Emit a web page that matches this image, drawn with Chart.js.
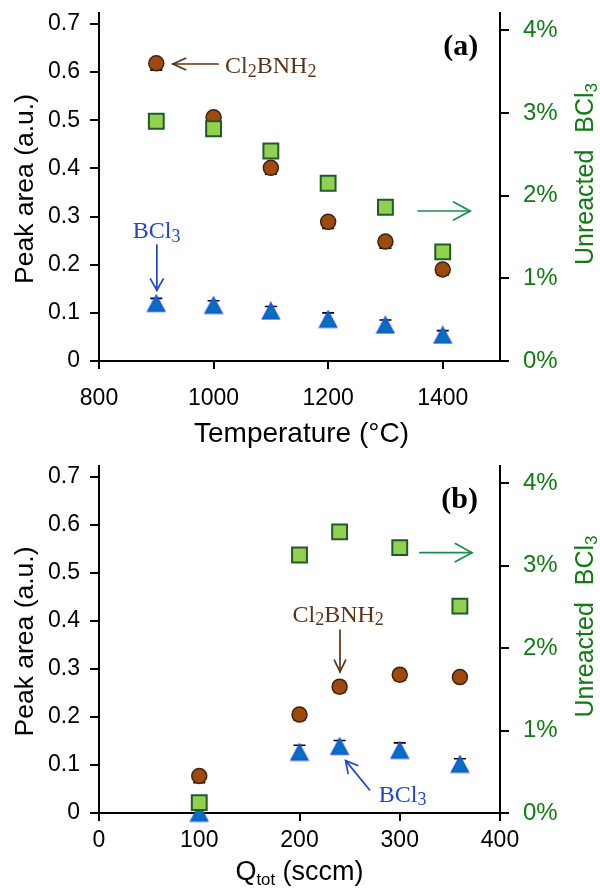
<!DOCTYPE html>
<html>
<head>
<meta charset="utf-8">
<script src="https://cdn.jsdelivr.net/npm/chart.js@4.4.0/dist/chart.umd.min.js"></script>
<style>
  html, body { margin: 0; padding: 0; background: #fff; }
  #wrap { position: relative; width: 600px; height: 888px; overflow: hidden; }
  #chartA { position: absolute; left: 0; top: 0; }
  #chartB { position: absolute; left: 0; top: 444px; }
</style>
</head>
<body>
<div id="wrap">
  <canvas id="chartA" width="600" height="460"></canvas>
  <canvas id="chartB" width="600" height="444"></canvas>
</div>
<script>
"use strict";

// (a) Peak area and unreacted BCl3 against temperature
const tempA = [900, 1000, 1100, 1200, 1300, 1400];
const cl2bnh2A = [0.618, 0.506, 0.401, 0.289, 0.248, 0.190];
const cl2bnh2ErrA = [0.014, 0.012, 0.013, 0.014, 0.014, 0.012];
const bcl3A = [0.120, 0.116, 0.104, 0.087, 0.075, 0.054];
const bcl3ErrA = [0.010, 0.009, 0.009, 0.013, 0.010, 0.009];
const unreactedA = [0.0290, 0.0281, 0.0254, 0.0215, 0.0186, 0.0132];

// (b) Peak area and unreacted BCl3 against total flow
const qtotB = [100, 200, 240, 300, 360];
const cl2bnh2B = [0.077, 0.205, 0.263, 0.288, 0.283];
const cl2bnh2ErrB = [0.014, 0.012, 0.012, 0.012, 0.010];
const bcl3B = [0.000, 0.127, 0.139, 0.131, 0.102];
const bcl3ErrB = [0.000, 0.014, 0.012, 0.015, 0.011];
const unreactedB = [0.00125, 0.0313, 0.0341, 0.0322, 0.0251];

// Tick values
const leftTicks = [0, 0.1, 0.2, 0.3, 0.4, 0.5, 0.6, 0.7];
const rightTicks = [0, 0.01, 0.02, 0.03, 0.04];
const xTicksA = [800, 1000, 1200, 1400];
const xTicksB = [0, 100, 200, 300, 400];

const SANS = '"Liberation Sans", Arial, sans-serif';
const SERIF = '"Liberation Serif", "Times New Roman", serif';
const GREEN = '#127a12';
const BROWN_TXT = '#5b3317';
const BLUE_TXT = '#1f45d6';
const GREEN_ARROW = '#16904a';

//Triangle marker as a small canvas so that it sits centred on its box like Excel's.
function triangleMarker() {
    const c = document.createElement('canvas');
    c.width = 20;
    c.height = 19;
    const g = c.getContext('2d');
    g.beginPath();
    g.moveTo(10, 1.5);
    g.lineTo(18.5, 17.5);
    g.lineTo(1.5, 17.5);
    g.closePath();
    g.fillStyle = '#0070c0';
    g.fill();
    g.strokeStyle = '#2050d8';
    g.lineWidth = 1.5;
    g.stroke();
    return c;
}
const triStyle = triangleMarker();

function points(xs, ys) {
    return xs.map((x, i) => ({ x: x, y: ys[i] }));
}

//Datasets: squares first so they are drawn on top.
function makeDatasets(xs, circ, circErr, tri, triErr, unreacted) {
    return [
        {
            label: 'Unreacted BCl3',
            data: points(xs, unreacted),
            yAxisID: 'y2',
            pointStyle: 'rect',
            pointRadius: 10.5,
            backgroundColor: '#92d050',
            borderColor: '#1e5b2b',
            borderWidth: 2,
            clip: false
        },
        {
            label: 'Cl2BNH2',
            data: points(xs, circ),
            yAxisID: 'y',
            pointStyle: 'circle',
            pointRadius: 7.5,
            backgroundColor: '#a0490f',
            borderColor: '#3b2412',
            borderWidth: 1.5,
            errors: circErr,
            errSide: 'minus',
            clip: false
        },
        {
            label: 'BCl3',
            data: points(xs, tri),
            yAxisID: 'y',
            pointStyle: triStyle,
            pointRadius: 9,
            errors: triErr,
            errSide: 'both',
            clip: false
        }
    ];
}

function makeScales(xMin, xMax, xTicks, xPad, xHeight) {
    const tickFont = { family: SANS, size: 23 };
    const grid = { display: true, drawOnChartArea: false, drawTicks: true, tickLength: 9, color: '#000', lineWidth: 2 };
    const border = { display: true, color: '#000', width: 2 };
    return {
        x: {
            type: 'linear',
            min: xMin,
            max: xMax,
            afterBuildTicks: s => { s.ticks = xTicks.map(v => ({ value: v })); },
            afterFit: s => { s.height = xHeight; s.paddingLeft = 0; s.paddingRight = 0; },
            grid: Object.assign({}, grid, { tickLength: 8 }),
            border: border,
            ticks: {
                color: '#000', font: tickFont, padding: xPad, maxRotation: 0, autoSkip: false,
                callback: v => String(v)
            }
        },
        y: {
            type: 'linear',
            position: 'left',
            min: 0,
            max: 0.7225,
            afterBuildTicks: s => { s.ticks = leftTicks.map(v => ({ value: v })); },
            afterFit: s => { s.width = 99; s.paddingTop = 0; s.paddingBottom = 0; },
            grid: grid,
            border: border,
            ticks: {
                color: '#000', font: tickFont, padding: 10,
                callback: v => v === 0 ? '0' : v.toFixed(1)
            }
        },
        y2: {
            type: 'linear',
            position: 'right',
            min: 0,
            max: 0.0421,
            afterBuildTicks: s => { s.ticks = rightTicks.map(v => ({ value: v })); },
            afterFit: s => { s.width = 100; s.paddingTop = 0; s.paddingBottom = 0; },
            grid: grid,
            border: border,
            ticks: {
                color: GREEN, font: { family: SANS, size: 24 }, padding: 14,
                callback: v => Math.round(v * 100) + '%'
            }
        }
    };
}

//Text with subscripts: parts = [[text, isSub], ...], a number adds extra space.
function drawRich(ctx, parts, x, y, o) {
    const subSize = o.size * (o.subScale || 0.7);
    const fontFor = sub => (o.weight || 'normal') + ' ' + (sub ? subSize : o.size) + 'px ' + o.family;
    let w = 0;
    parts.forEach(p => {
        if (typeof p === 'number') { w += p; return; }
        ctx.font = fontFor(p[1]);
        w += ctx.measureText(p[0]).width;
    });
    let cx = x;
    if (o.align === 'center') cx = x - w / 2;
    if (o.align === 'right') cx = x - w;
    ctx.fillStyle = o.color;
    ctx.textAlign = 'left';
    ctx.textBaseline = 'alphabetic';
    parts.forEach(p => {
        if (typeof p === 'number') { cx += p; return; }
        ctx.font = fontFor(p[1]);
        ctx.fillText(p[0], cx, p[1] ? y + o.size * (o.subShift || 0.15) : y);
        cx += ctx.measureText(p[0]).width;
    });
}

function drawArrow(ctx, x1, y1, x2, y2, color, len, ang) {
    ctx.save();
    ctx.strokeStyle = color;
    ctx.lineWidth = 1.7;
    ctx.lineCap = 'round';
    ctx.beginPath();
    ctx.moveTo(x1, y1);
    ctx.lineTo(x2, y2);
    ctx.stroke();
    const a = Math.atan2(y2 - y1, x2 - x1);
    ctx.beginPath();
    ctx.moveTo(x2 - len * Math.cos(a - ang), y2 - len * Math.sin(a - ang));
    ctx.lineTo(x2, y2);
    ctx.lineTo(x2 - len * Math.cos(a + ang), y2 - len * Math.sin(a + ang));
    ctx.stroke();
    ctx.restore();
}

function drawErrorBars(chart) {
    const ctx = chart.ctx;
    ctx.save();
    ctx.strokeStyle = '#000';
    ctx.lineWidth = 1.6;
    chart.data.datasets.forEach((ds, i) => {
        if (!ds.errors) return;
        const yScale = chart.scales[ds.yAxisID];
        chart.getDatasetMeta(i).data.forEach((el, j) => {
            const e = ds.errors[j];
            if (!e) return;
            const v = ds.data[j].y;
            const ends = [];
            if (ds.errSide !== 'plus') ends.push(yScale.getPixelForValue(v - e));
            if (ds.errSide !== 'minus') ends.push(yScale.getPixelForValue(v + e));
            ends.forEach(py => {
                ctx.beginPath();
                ctx.moveTo(el.x, el.y);
                ctx.lineTo(el.x, py);
                ctx.moveTo(el.x - 6, py);
                ctx.lineTo(el.x + 6, py);
                ctx.stroke();
            });
        });
    });
    ctx.restore();
}

function makeExtras(cfg) {
    return {
        id: 'extras',
        beforeDatasetsDraw(chart) {
            drawErrorBars(chart);
        },
        afterDraw(chart) {
            const ctx = chart.ctx;
            const area = chart.chartArea;
            const xs = chart.scales.x;
            const ys = chart.scales.y;
            const cy = (area.top + area.bottom) / 2;
            const cx = (area.left + area.right) / 2;

            //Axis titles
            ctx.save();
            ctx.translate(33, cy + 2);
            ctx.rotate(-Math.PI / 2);
            drawRich(ctx, [['Peak area (a.u.)']], 0, 0, { size: 26.5, family: SANS, color: '#000', align: 'center' });
            ctx.restore();

            ctx.save();
            ctx.translate(593, cy - 13);
            ctx.rotate(-Math.PI / 2);
            drawRich(ctx, [['Unreacted'], 17, ['BCl'], ['3', true]], 0, 0,
                { size: 25, family: SANS, color: GREEN, align: 'center', subScale: 0.68, subShift: 0.16 });
            ctx.restore();

            drawRich(ctx, cfg.xTitle, cx + cfg.xTitleDx, cfg.xTitleY,
                { size: cfg.xTitleSize, family: SANS, color: '#000', align: 'center', subScale: 0.62, subShift: 0.17 });

            //Annotations placed in data coordinates
            cfg.texts.forEach(t => {
                drawRich(ctx, t.parts, xs.getPixelForValue(t.x), ys.getPixelForValue(t.y),
                    { size: t.size, family: SERIF, weight: t.weight, color: t.color, align: t.align, subScale: 0.75, subShift: 0.14 });
            });
            cfg.arrows.forEach(a => {
                drawArrow(ctx, xs.getPixelForValue(a.x1), ys.getPixelForValue(a.y1),
                    xs.getPixelForValue(a.x2), ys.getPixelForValue(a.y2), a.color, a.len, a.ang);
            });
        }
    };
}

function makeChart(id, datasets, scales, padding, extras) {
    return new Chart(document.getElementById(id), {
        type: 'scatter',
        data: { datasets: datasets },
        options: {
            responsive: false,
            animation: false,
            events: [],
            layout: { padding: padding },
            scales: scales,
            plugins: { legend: { display: false }, tooltip: { enabled: false } }
        },
        plugins: [extras]
    });
}

//Chart (a)
makeChart('chartA',
    makeDatasets(tempA, cl2bnh2A, cl2bnh2ErrA, bcl3A, bcl3ErrA, unreactedA),
    makeScales(800, 1500, xTicksA, 16, 83),
    { top: 13, bottom: 16, left: 0, right: 0 },
    makeExtras({
        xTitle: [['Temperature (°C)']], xTitleDx: 2, xTitleY: 442, xTitleSize: 28,
        texts: [
            { parts: [['(a)']], x: 1462, y: 0.635, size: 30, weight: 'bold', color: '#000', align: 'right' },
            { parts: [['Cl'], ['2', true], ['BNH'], ['2', true]], x: 1020, y: 0.597, size: 24, color: BROWN_TXT, align: 'left' },
            { parts: [['BCl'], ['3', true]], x: 859, y: 0.255, size: 24, color: BLUE_TXT, align: 'left' }
        ],
        arrows: [
            { x1: 1008, y1: 0.6166, x2: 929, y2: 0.6166, color: BROWN_TXT, len: 14, ang: 0.42 },
            { x1: 901, y1: 0.241, x2: 901, y2: 0.147, color: BLUE_TXT, len: 13, ang: 0.52 },
            { x1: 1357, y1: 0.3114, x2: 1448, y2: 0.3114, color: GREEN_ARROW, len: 19, ang: 0.5 }
        ]
    }));

//Chart (b)
makeChart('chartB',
    makeDatasets(qtotB, cl2bnh2B, cl2bnh2ErrB, bcl3B, bcl3ErrB, unreactedB),
    makeScales(0, 400, xTicksB, 6, 75),
    { top: 22, bottom: 0, left: 0, right: 0 },
    makeExtras({
        xTitle: [['Q'], ['tot', true], [' (sccm)']], xTitleDx: 0, xTitleY: 436, xTitleSize: 27,
        texts: [
            { parts: [['(b)']], x: 378, y: 0.635, size: 30, weight: 'bold', color: '#000', align: 'right' },
            { parts: [['Cl'], ['2', true], ['BNH'], ['2', true]], x: 193, y: 0.398, size: 24, color: BROWN_TXT, align: 'left' },
            { parts: [['BCl'], ['3', true]], x: 279, y: 0.0235, size: 24, color: BLUE_TXT, align: 'left' }
        ],
        arrows: [
            { x1: 320, y1: 0.542, x2: 372, y2: 0.542, color: GREEN_ARROW, len: 19, ang: 0.5 },
            { x1: 240.4, y1: 0.381, x2: 240.4, y2: 0.294, color: BROWN_TXT, len: 13, ang: 0.45 },
            { x1: 270, y1: 0.048, x2: 246, y2: 0.109, color: BLUE_TXT, len: 13, ang: 0.5 }
        ]
    }));
</script>
</body>
</html>
